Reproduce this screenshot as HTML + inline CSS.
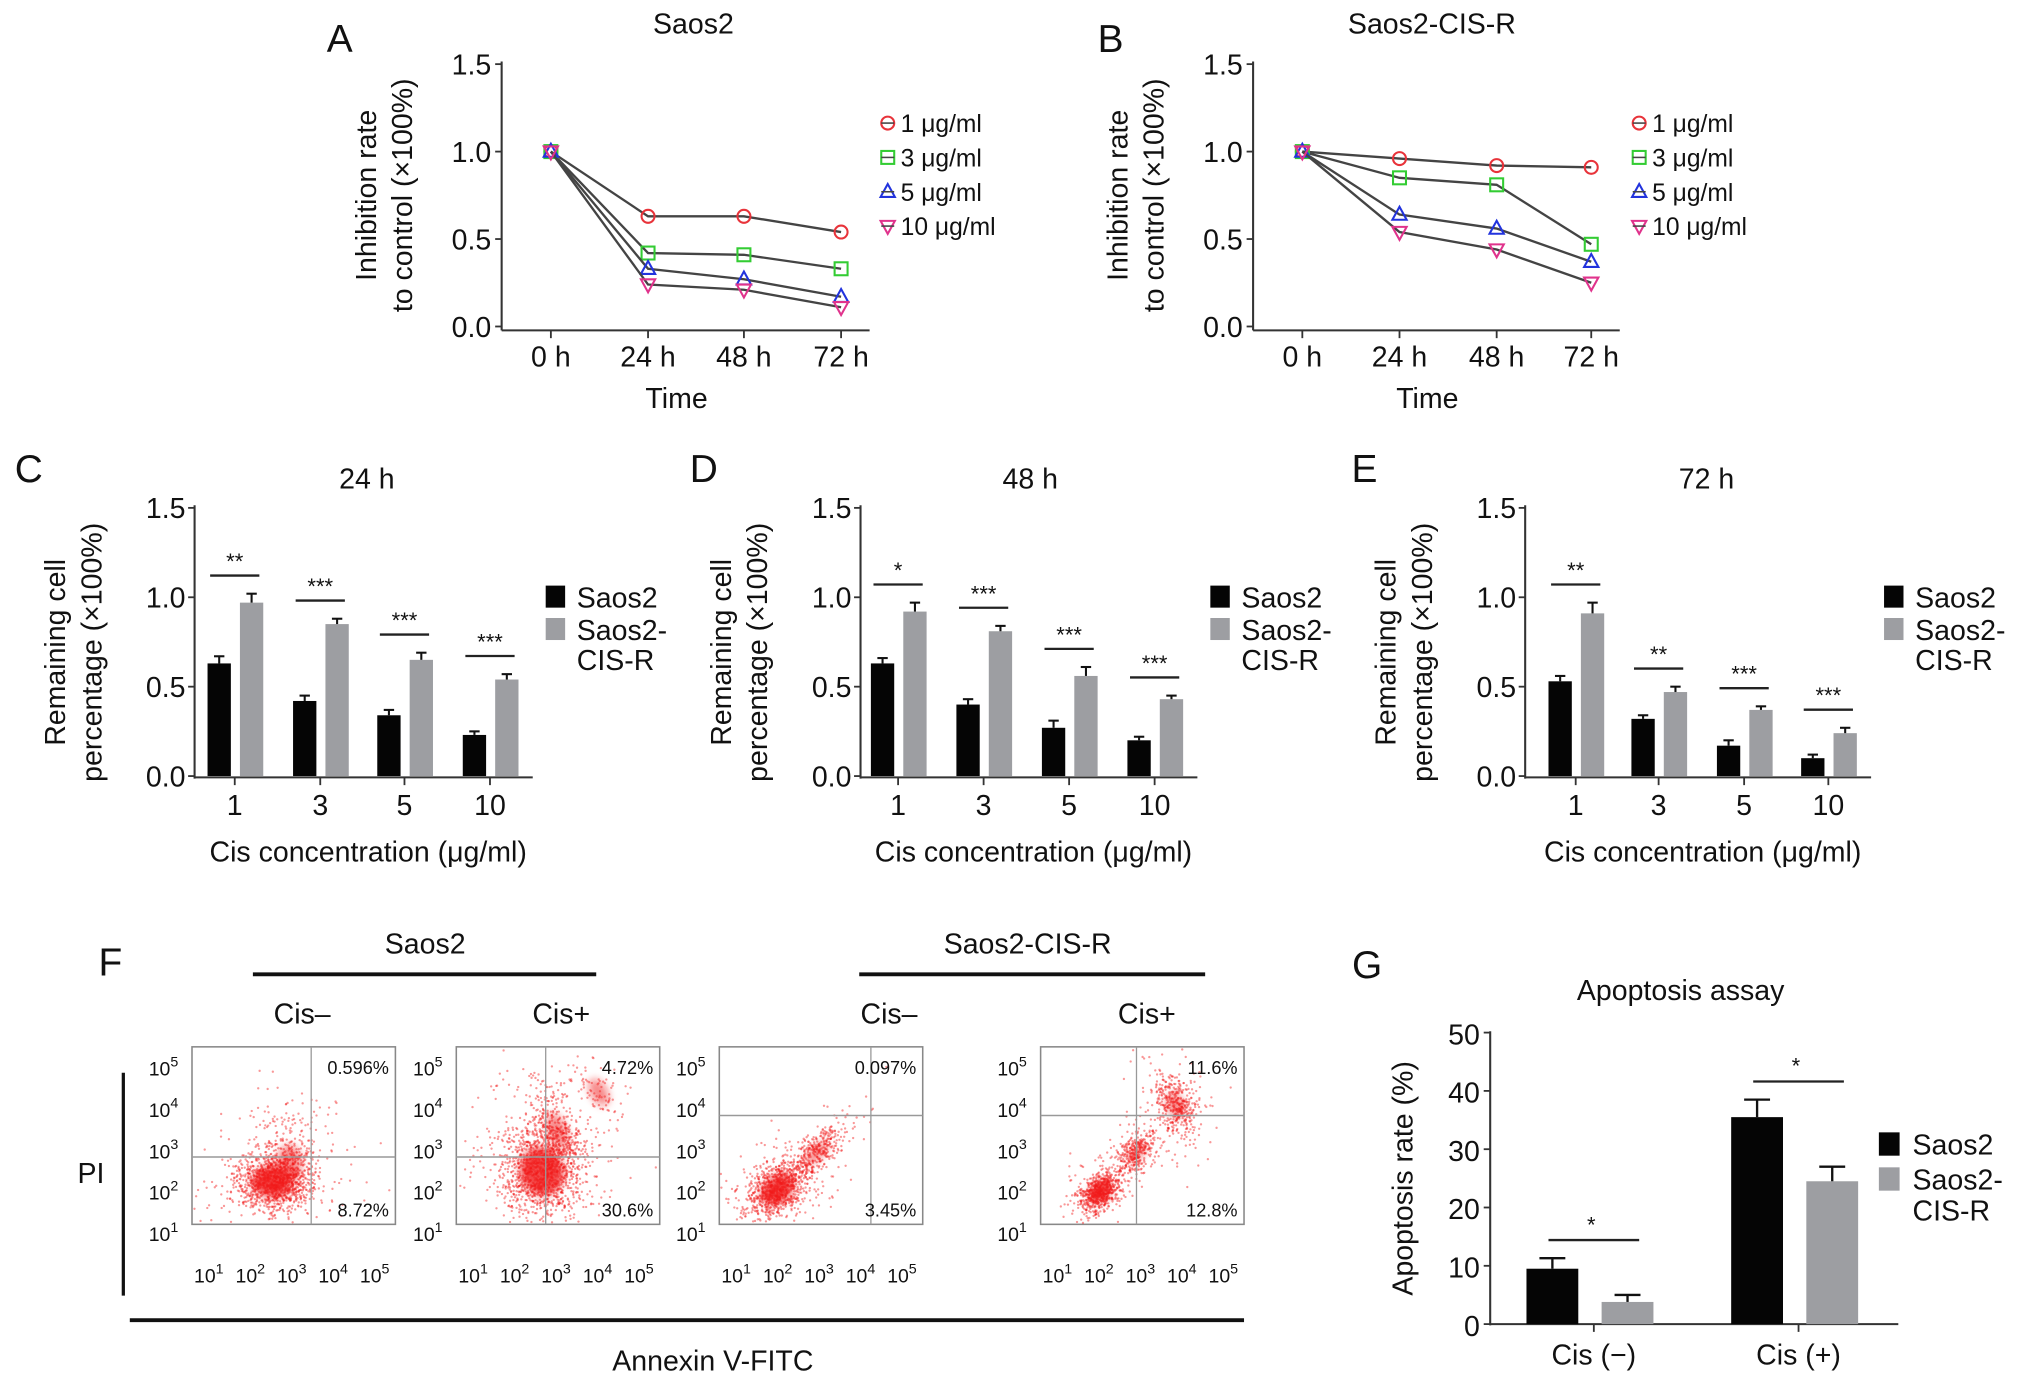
<!DOCTYPE html>
<html><head><meta charset="utf-8">
<style>
html,body{margin:0;padding:0;background:#fff;}
svg{display:block;font-family:"Liberation Sans",Arial,sans-serif;}
</style></head>
<body>
<svg id="fig" width="2032" height="1385" viewBox="0 0 1568 1069" xmlns="http://www.w3.org/2000/svg">
<defs><filter id="blur" x="-50%" y="-50%" width="200%" height="200%"><feGaussianBlur stdDeviation="3"/></filter></defs>
</svg>
<script>
// ---------- Data ----------
const timeCats = ["0 h","24 h","48 h","72 h"];
const doseLabels = ["1 μg/ml","3 μg/ml","5 μg/ml","10 μg/ml"];
const aSeries1 = [1.0,0.63,0.63,0.54];
const aSeries3 = [1.0,0.42,0.41,0.33];
const aSeries5 = [1.0,0.33,0.27,0.17];
const aSeries10 = [1.0,0.24,0.21,0.11];
const bSeries1 = [1.0,0.96,0.92,0.91];
const bSeries3 = [1.0,0.85,0.81,0.47];
const bSeries5 = [1.0,0.64,0.56,0.37];
const bSeries10 = [1.0,0.54,0.44,0.25];
const lineTicks = [0.0,0.5,1.0,1.5];
const concCats = ["1","3","5","10"];
const c24Saos = [0.63,0.42,0.34,0.23];
const c24Res = [0.97,0.85,0.65,0.54];
const c24Err = [0.04,0.03,0.03,0.02];
const c24ErrR = [0.05,0.03,0.04,0.03];
const c24Stars = ["**","***","***","***"];
const d48Saos = [0.63,0.40,0.27,0.20];
const d48Res = [0.92,0.81,0.56,0.43];
const d48Err = [0.03,0.03,0.04,0.02];
const d48ErrR = [0.05,0.03,0.05,0.02];
const d48Stars = ["*","***","***","***"];
const e72Saos = [0.53,0.32,0.17,0.10];
const e72Res = [0.91,0.47,0.37,0.24];
const e72Err = [0.03,0.02,0.03,0.02];
const e72ErrR = [0.06,0.03,0.02,0.03];
const e72Stars = ["**","**","***","***"];
const gCats = ["Cis (−)","Cis (+)"];
const gSaos = [9.5,35.5];
const gRes = [3.8,24.5];
const gErrS = [1.8,3.0];
const gErrR = [1.2,2.5];
const gTicks = [0,10,20,30,40,50];
const flowPctUR = ["0.596%","4.72%","0.097%","11.6%"];
const flowPctLR = ["8.72%","30.6%","3.45%","12.8%"];

const NS="http://www.w3.org/2000/svg";
const svg=document.getElementById('fig');
function el(tag,attrs,parent,text){const e=document.createElementNS(NS,tag);for(const k in attrs)e.setAttribute(k,attrs[k]);if(text!==undefined)e.textContent=text;(parent||svg).appendChild(e);return e;}
function grp(name,parent){const g=document.createElementNS(NS,'g');


(parent||svg).appendChild(g);return g;}
function txt(p,x,y,s,size,anchor,name,extra){const t=el('text',Object.assign({x:x,y:y,'font-size':size,'text-anchor':anchor||'middle',fill:'#111'},extra||{}),p,s);


return t;}

// ---------- Line charts A, B ----------
function lineChart(name,letter,lx,title,tx,x0,xs,series,legX){
  const g=grp(name);
  const y=v=>252-v*135;
  txt(g,lx,40,letter,30,'middle','panel-label');
  txt(g,tx,26,title,22,'middle','chart-title');
  el('line',{x1:x0,y1:y(1.5)-2,x2:x0,y2:y(0)+3,stroke:'#333','stroke-width':1.6},g);
  el('line',{x1:x0,y1:y(0)+3,x2:xs[3]+22,y2:y(0)+3,stroke:'#333','stroke-width':1.6},g);
  lineTicks.forEach(v=>{el('line',{x1:x0-5,y1:y(v),x2:x0,y2:y(v),stroke:'#333','stroke-width':1.4},g);
    txt(g,x0-8,y(v)+8,v.toFixed(1),22,'end','y-tick-label');});
  timeCats.forEach((c,i)=>{el('line',{x1:xs[i],y1:y(0)+3,x2:xs[i],y2:y(0)+9,stroke:'#333','stroke-width':1.4},g);
    txt(g,xs[i],y(0)+31,c,22,'middle','x-tick-label');});
  txt(g,(x0+xs[3])/2+4,315,'Time',22,'middle','x-axis-title');
  const yl=el('text',{transform:`translate(${x0-97},${y(0.75)}) rotate(-90)`,'font-size':22,'text-anchor':'middle',fill:'#111'},g);
  
  
  el('tspan',{x:0,y:0},yl,'Inhibition rate');
  el('tspan',{x:0,y:28},yl,'to control (×100%)');
  const cols=['#e8333a','#33cc33','#2233dd','#e0338c'];
  series.forEach((s,k)=>{
    const pts=s.map((v,i)=>xs[i]+','+y(v)).join(' ');
    const pl=el('polyline',{points:pts,fill:'none',stroke:'#444','stroke-width':1.8},g);
    
    
    s.forEach((v,i)=>marker(g,k,xs[i],y(v),cols[k]));
  });
  doseLabels.forEach((d,k)=>{const yy=95+k*26.5;marker(g,k,legX,yy,cols[k]);
    el('line',{x1:legX-5,y1:yy,x2:legX+5,y2:yy,stroke:'#444','stroke-width':1.2},g);
    txt(g,legX+10,yy+7,d,19,'start','legend-entry');});
}
function marker(g,k,x,y,c){let m;
  if(k===0)m=el('circle',{cx:x,cy:y,r:5,fill:'none',stroke:c,'stroke-width':1.6},g);
  else if(k===1)m=el('rect',{x:x-5,y:y-5,width:10,height:10,fill:'none',stroke:c,'stroke-width':1.6},g);
  else if(k===2)m=el('polygon',{points:`${x},${y-6} ${x-5.5},${y+4} ${x+5.5},${y+4}`,fill:'none',stroke:c,'stroke-width':1.6},g);
  else m=el('polygon',{points:`${x},${y+6} ${x-5.5},${y-4} ${x+5.5},${y-4}`,fill:'none',stroke:c,'stroke-width':1.6},g);
  
  }
lineChart('chart-a','A',262,'Saos2',535,387,[425,500,574,649],[aSeries1,aSeries3,aSeries5,aSeries10],685);
lineChart('chart-b','B',857,'Saos2-CIS-R',1105,967,[1005,1080,1155,1228],[bSeries1,bSeries3,bSeries5,bSeries10],1265);

// ---------- Bar charts C, D, E ----------
function barChart(name,letter,lx,title,tx,x0,xs,s1,s2,e1,e2,stars,legX){
  const g=grp(name);
  const y=v=>599-v*138;
  txt(g,lx,372,letter,30,'middle','panel-label');
  txt(g,tx,377,title,22,'middle','chart-title');
  el('line',{x1:x0,y1:y(1.5)-2,x2:x0,y2:y(0)+2,stroke:'#333','stroke-width':1.6},g);
  el('line',{x1:x0,y1:y(0)+1,x2:xs[3]+33,y2:y(0)+1,stroke:'#333','stroke-width':1.6},g);
  lineTicks.forEach(v=>{el('line',{x1:x0-5,y1:y(v),x2:x0,y2:y(v),stroke:'#333','stroke-width':1.4},g);
    txt(g,x0-7,y(v)+8,v.toFixed(1),22,'end','y-tick-label');});
  concCats.forEach((c,i)=>{const cx=xs[i];
    el('line',{x1:cx,y1:y(0)+1,x2:cx,y2:y(0)+7,stroke:'#333','stroke-width':1.4},g);
    txt(g,cx,y(0)+30,c,22,'middle','x-tick-label');
    const b1=el('rect',{x:cx-21,y:y(s1[i]),width:18,height:s1[i]*138,fill:'#050505'},g);
    
    
    const b2=el('rect',{x:cx+4,y:y(s2[i]),width:18,height:s2[i]*138,fill:'#9d9ea2'},g);
    
    
    [[cx-12,s1[i],e1[i]],[cx+13,s2[i],e2[i]]].forEach(([bx,v,e])=>{
      el('line',{x1:bx,y1:y(v),x2:bx,y2:y(v+e),stroke:'#111','stroke-width':1.6},g);
      el('line',{x1:bx-4,y1:y(v+e),x2:bx+4,y2:y(v+e),stroke:'#111','stroke-width':1.6},g);});
    const sy=y(Math.max(s1[i],s2[i]+e2[i]))-14;
    el('line',{x1:cx-19,y1:sy,x2:cx+19,y2:sy,stroke:'#222','stroke-width':1.8},g);
    txt(g,cx,sy-5,stars[i],17,'middle','significance-stars');
  });
  txt(g,(x0+xs[3]+30)/2+5,665,'Cis concentration (μg/ml)',22,'middle','x-axis-title');
  const yl=el('text',{transform:`translate(${x0-100},${y(0.75)+8}) rotate(-90)`,'font-size':22,'text-anchor':'middle',fill:'#111'},g);
  
  
  el('tspan',{x:0,y:0},yl,'Remaining cell');
  el('tspan',{x:0,y:28},yl,'percentage (×100%)');
  el('rect',{x:legX,y:452,width:15,height:17,fill:'#050505'},g);
  txt(g,legX+24,469,'Saos2',22,'start','legend-entry');
  el('rect',{x:legX,y:477,width:15,height:17,fill:'#9d9ea2'},g);
  txt(g,legX+24,494,'Saos2-',22,'start','legend-entry');
  txt(g,legX+24,517,'CIS-R',22,'start','legend-entry');
}
barChart('chart-c','C',22,'24 h',283,150,[181,247,312,378],c24Saos,c24Res,c24Err,c24ErrR,c24Stars,421);
barChart('chart-d','D',543,'48 h',795,664,[693,759,825,891],d48Saos,d48Res,d48Err,d48ErrR,d48Stars,934);
barChart('chart-e','E',1053,'72 h',1317,1177,[1216,1280,1346,1411],e72Saos,e72Res,e72Err,e72ErrR,e72Stars,1454);

// ---------- Panel F flow cytometry ----------
(function(){
  const g=grp('panel-f');
  txt(g,85,753,'F',30,'middle','panel-label');
  txt(g,328,736,'Saos2',22,'middle','group-title');
  el('line',{x1:195,y1:752,x2:460,y2:752,stroke:'#111','stroke-width':3},g);
  txt(g,793,736,'Saos2-CIS-R',22,'middle','group-title');
  el('line',{x1:663,y1:752,x2:930,y2:752,stroke:'#111','stroke-width':3},g);
  [['Cis–',233],['Cis+',433],['Cis–',686],['Cis+',885]].forEach(([s,x])=>txt(g,x,790,s,22,'middle','condition-label'));
  txt(g,70,913,'PI',22,'middle','y-axis-title');
  el('line',{x1:95,y1:828,x2:95,y2:1000,stroke:'#111','stroke-width':2.5},g);
  el('line',{x1:100,y1:1019,x2:960,y2:1019,stroke:'#111','stroke-width':3},g);
  txt(g,550,1058,'Annexin V-FITC',22,'middle','x-axis-title');
  const boxes=[148,352,555,803];
  const vlines=[240,421,672,877];
  const hlines=[893,893,861,861];
  const clouds=[
    [[62,104,14,11,0,1100],[75,90,12,18,0,400]],
    [[66,96,15,17,-20,1300],[78,65,9,18,-20,400],[110,35,8,14,-30,80]],
    [[45,110,13,9,-40,900],[75,82,14,6,-45,350]],
    [[46,112,9,6,-45,700],[74,82,10,6,-50,350],[104,45,8,12,-20,450]]];
  let seed=7;function rnd(){seed=(seed*16807)%2147483647;return seed/2147483647;}
  function gauss(){let s=0;for(let q=0;q<4;q++)s+=rnd();return (s-2)/0.577;}
  boxes.forEach((bx,i)=>{
    const pg=grp('flow-plot-'+(i+1),g);
    const top=808,h=137,w=157;
    el('rect',{x:bx,y:top,width:w,height:h,fill:'#fff',stroke:'#888','stroke-width':1.2},pg);
    const cl=el('g',{},pg);
    
    
    clouds[i].forEach(([cx,cy,sx,sy,rot,n],k)=>{
      const a=rot*Math.PI/180;
      const core=el('ellipse',{cx:bx+cx,cy:top+cy,rx:sx*(k===0?1.1:0.8),ry:sy*(k===0?1.1:0.8),transform:`rotate(${rot} ${bx+cx} ${top+cy})`,fill:'#f01515','fill-opacity':k===0?0.8:0.5,filter:'url(#blur)'},cl);
      for(let j=0;j<n;j++){const sp=j<n*0.15?2.2:1;const u=gauss()*sx*sp,v=gauss()*sy*sp;
        const x=bx+cx+u*Math.cos(a)-v*Math.sin(a),y=top+cy+u*Math.sin(a)+v*Math.cos(a);
        if(x>bx+1&&x<bx+w-1&&y>top+1&&y<top+h-1)el('circle',{cx:x.toFixed(1),cy:y.toFixed(1),r:0.9,fill:'#f21a1a','fill-opacity':0.45},cl);}
    });
    el('line',{x1:vlines[i],y1:top,x2:vlines[i],y2:top+h,stroke:'#999','stroke-width':1},pg);
    el('line',{x1:bx,y1:hlines[i],x2:bx+w,y2:hlines[i],stroke:'#999','stroke-width':1.2},pg);
    txt(pg,bx+w-5,top+21,flowPctUR[i],14,'end','quadrant-pct-upper');
    txt(pg,bx+w-5,top+h-6,flowPctLR[i],14,'end','quadrant-pct-lower');
    [5,4,3,2,1].forEach((p,k)=>{const yy=825+k*32;
      const t=txt(pg,bx-22,yy+5,'10',15,'middle','y-tick-label');
      el('tspan',{dy:-7,'font-size':11},t,String(p));});
    [1,2,3,4,5].forEach((p,k)=>{const xx=bx+13+k*32;
      const t=txt(pg,xx,990,'10',15,'middle','x-tick-label');
      el('tspan',{dy:-7,'font-size':11},t,String(p));});
  });
})();

// ---------- Panel G ----------
(function(){
  const g=grp('chart-g');
  const x0=1150,y=v=>1022-v*4.5;
  txt(g,1055,755,'G',30,'middle','panel-label');
  txt(g,1297,772,'Apoptosis assay',22,'middle','chart-title');
  el('line',{x1:x0,y1:y(50)-1,x2:x0,y2:y(0)+1,stroke:'#333','stroke-width':1.6},g);
  el('line',{x1:x0,y1:y(0),x2:1465,y2:y(0),stroke:'#333','stroke-width':1.6},g);
  gTicks.forEach(v=>{el('line',{x1:x0-5,y1:y(v),x2:x0,y2:y(v),stroke:'#333','stroke-width':1.4},g);
    txt(g,x0-8,y(v)+9,String(v),22,'end','y-tick-label');});
  const gx=[1230,1388];
  gCats.forEach((c,i)=>{const cx=gx[i];
    el('line',{x1:cx,y1:y(0),x2:cx,y2:y(0)+6,stroke:'#333','stroke-width':1.4},g);
    txt(g,cx,1053,c,22,'middle','x-tick-label');
    const b1=el('rect',{x:cx-52,y:y(gSaos[i]),width:40,height:gSaos[i]*4.5,fill:'#050505'},g);
    
    
    const b2=el('rect',{x:cx+6,y:y(gRes[i]),width:40,height:gRes[i]*4.5,fill:'#9d9ea2'},g);
    
    
    [[cx-32,gSaos[i],gErrS[i]],[cx+26,gRes[i],gErrR[i]]].forEach(([bx,v,e])=>{
      el('line',{x1:bx,y1:y(v),x2:bx,y2:y(v+e),stroke:'#111','stroke-width':1.8},g);
      el('line',{x1:bx-10,y1:y(v+e),x2:bx+10,y2:y(v+e),stroke:'#111','stroke-width':1.8},g);});
    const sy=y(gSaos[i]+gErrS[i])-14;
    el('line',{x1:cx-35,y1:sy,x2:cx+35,y2:sy,stroke:'#222','stroke-width':1.8},g);
    txt(g,cx-2,sy-6,'*',17,'middle','significance-stars');
  });
  txt(g,0,0,'Apoptosis rate (%)',22,'middle','y-axis-title',{transform:`translate(1090,${y(25)}) rotate(-90)`});
  el('rect',{x:1450,y:874,width:16,height:18,fill:'#050505'},g);
  txt(g,1476,891,'Saos2',22,'start','legend-entry');
  el('rect',{x:1450,y:901,width:16,height:18,fill:'#9d9ea2'},g);
  txt(g,1476,918,'Saos2-',22,'start','legend-entry');
  txt(g,1476,942,'CIS-R',22,'start','legend-entry');
})();
</script>
</body></html>
